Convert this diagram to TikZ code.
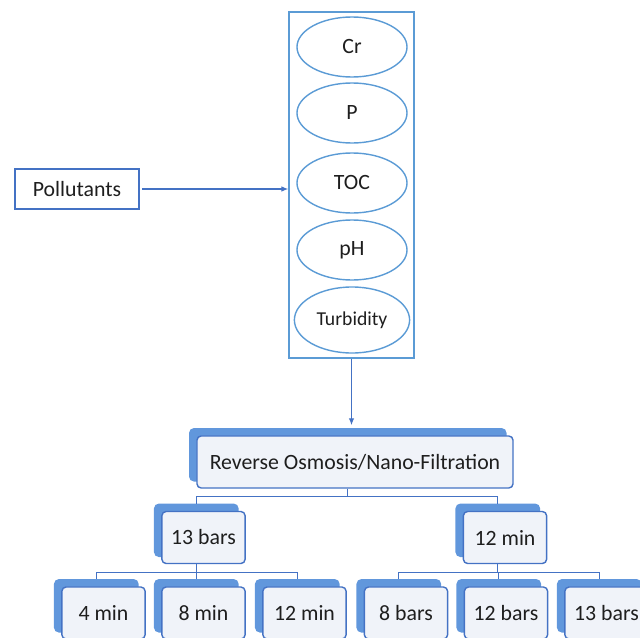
\documentclass[tikz,border=0pt]{standalone}
\usepackage{fontspec}
\setmainfont{Carlito}
\usetikzlibrary{shapes.geometric,shadows,arrows.meta}
\definecolor{rimblue}{HTML}{5B9BD5}
\definecolor{lineblue}{HTML}{4472C4}
\definecolor{boxfill}{HTML}{F0F3F9}
\definecolor{shadeblue}{HTML}{6197DC}
\definecolor{inkgray}{HTML}{1E1E1E}

\begin{document}
\begin{tikzpicture}[x=0.025cm,y=-0.025cm,
    font=\fontsize{15.5}{18}\selectfont, text=inkgray,
    pol/.style={draw=lineblue,line width=0.8pt,minimum width=3.1cm,minimum height=1cm},
    holder/.style={draw=rimblue,line width=1pt,minimum width=3.12cm,minimum height=8.65cm},
    oval/.style={ellipse,draw=rimblue,line width=1pt,inner sep=0pt,minimum width=2.75cm,minimum height=1.5cm},
    rbox/.style={draw=lineblue,fill=boxfill,rounded corners=3pt,line width=1pt,minimum height=1.3cm,
      copy shadow={shadow xshift=-0.18cm,shadow yshift=0.18cm,fill=shadeblue,draw=shadeblue}},
    arr/.style={draw=lineblue,line width=0.9pt,-{Latex[length=5pt,width=4pt]}},
    link/.style={draw=lineblue,line width=0.8pt}]
  \path[use as bounding box,clip] (0,0) rectangle (640,638);

  % pollutants and what they are
  \node[pol] at (77,189) (pollu) {Pollutants};
  \node[holder] at (351.5,185) (holder) {};
  \node[oval] at (352,47) (cr) {Cr};
  \node[oval] at (352,113) (p) {P};
  \node[oval] at (352,183) (toc) {TOC};
  \node[oval] at (352,250) (ph) {pH};
  \node[oval,minimum width=2.88cm,minimum height=1.65cm,font=\fontsize{14}{16}\selectfont] at (352,320) (turb) {Turbidity};
  \path ([xshift=2pt]pollu.east) edge[arr] (pollu.east -| holder.west);

  % treatment tree
  \node[rbox,minimum width=7.9cm] at (355,462) (ro) {Reverse Osmosis/Nano-Filtration};
  \path (holder.south) edge[arr] ([yshift=0.25cm]holder.south |- ro.north);
  \node[rbox,minimum width=2.08cm] at (203.5,537.5) (bars13) {13 bars};
  \node[rbox,minimum width=2.08cm] at (505,537.5) (min12) {12 min};
  \node[rbox,minimum width=2.08cm] at (103.5,613) (min4) {4 min};
  \node[rbox,minimum width=2.08cm] at (203.5,613) (min8) {8 min};
  \node[rbox,minimum width=2.08cm] at (304.5,613) (min12b) {12 min};
  \node[rbox,minimum width=2.08cm] at (406,613) (bars8) {8 bars};
  \node[rbox,minimum width=2.08cm] at (506,613) (bars12) {12 bars};
  \node[rbox,minimum width=2.08cm] at (606.5,613) (bars13b) {13 bars};

  \draw[link] ([xshift=-0.18cm]ro.south) -- ++(0,8) -| ([shift={(-0.18cm,0.18cm)}]bars13.north);
  \draw[link] ([xshift=-0.18cm]ro.south) -- ++(0,8) -| ([shift={(-0.18cm,0.18cm)}]min12.north);
  \draw[link] ([xshift=-0.18cm]bars13.south) -- ++(0,8) -| ([shift={(-0.18cm,0.18cm)}]min4.north);
  \draw[link] ([xshift=-0.18cm]bars13.south) -- ++(0,8) -| ([shift={(-0.18cm,0.18cm)}]min8.north);
  \draw[link] ([xshift=-0.18cm]bars13.south) -- ++(0,8) -| ([shift={(-0.18cm,0.18cm)}]min12b.north);
  \draw[link] ([xshift=-0.18cm]min12.south) -- ++(0,8) -| ([shift={(-0.18cm,0.18cm)}]bars8.north);
  \draw[link] ([xshift=-0.18cm]min12.south) -- ++(0,8) -| ([shift={(-0.18cm,0.18cm)}]bars12.north);
  \draw[link] ([xshift=-0.18cm]min12.south) -- ++(0,8) -| ([shift={(-0.18cm,0.18cm)}]bars13b.north);
\end{tikzpicture}
\end{document}
